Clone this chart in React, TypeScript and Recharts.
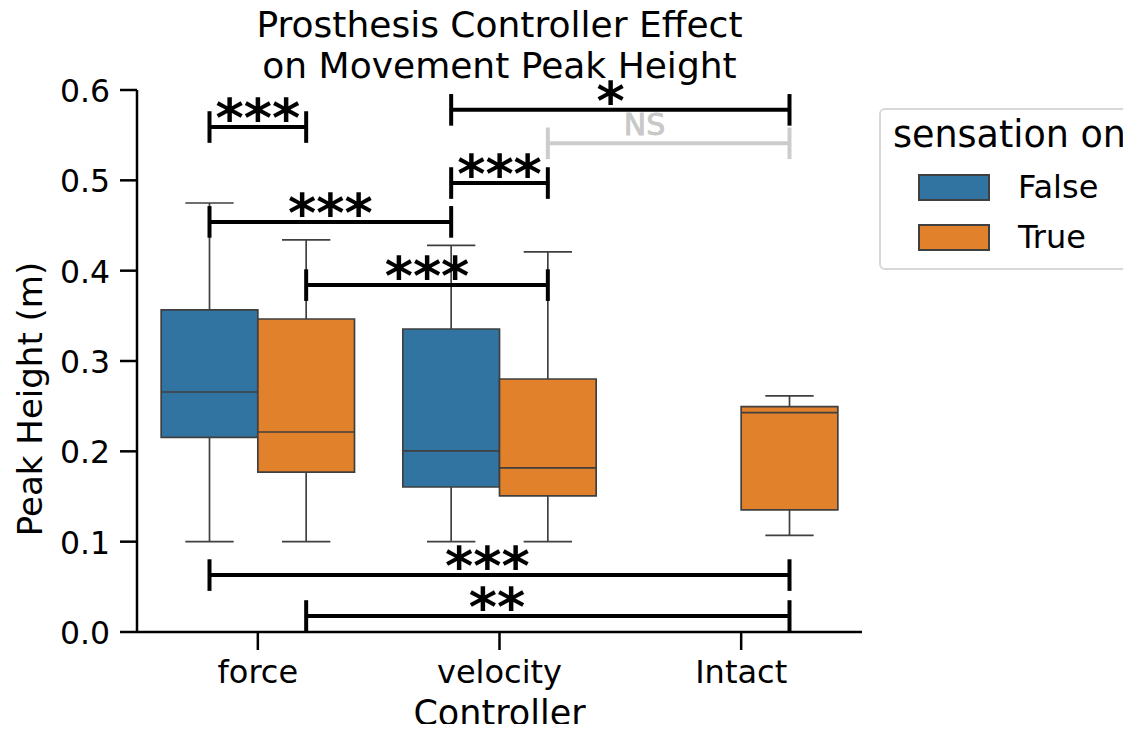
import React from 'react';
import { ComposedChart, XAxis, YAxis, Scatter, ReferenceArea, ReferenceLine, Legend } from 'recharts';

const categories = ['force', 'velocity', 'Intact'];
const hueLevels = ['False', 'True'];
const hueColors = ['#3274a1', '#e1812c'];
const yTicks = [0, 0.1, 0.2, 0.3, 0.4, 0.5, 0.6];
const xTicks = [0, 1, 2];

const falseBoxes = [
  { cat: 'force', low: 0.1, q1: 0.2155, median: 0.2657, q3: 0.3565, high: 0.4749 },
  { cat: 'velocity', low: 0.1, q1: 0.1605, median: 0.2004, q3: 0.3354, high: 0.428 },
];
const trueBoxes = [
  { cat: 'force', low: 0.1, q1: 0.177, median: 0.2214, q3: 0.3465, high: 0.434 },
  { cat: 'velocity', low: 0.1, q1: 0.1506, median: 0.1816, q3: 0.2801, high: 0.4207 },
  { cat: 'Intact', low: 0.107, q1: 0.1351, median: 0.2428, q3: 0.2494, high: 0.2613 },
];

const annotations = [
  { from: ['force', 'False'], to: ['force', 'True'], y: 0.559, text: '***', textX: 0.0 },
  { from: ['force', 'False'], to: ['velocity', 'False'], y: 0.454, text: '***', textX: 0.3 },
  { from: ['force', 'True'], to: ['velocity', 'True'], y: 0.384, text: '***', textX: 0.7 },
  { from: ['velocity', 'False'], to: ['velocity', 'True'], y: 0.497, text: '***', textX: 1.0 },
  { from: ['velocity', 'False'], to: ['Intact', 'True'], y: 0.578, text: '*', textX: 1.46 },
  { from: ['velocity', 'True'], to: ['Intact', 'True'], y: 0.541, text: 'NS', textX: 1.6 },
  { from: ['force', 'False'], to: ['Intact', 'True'], y: 0.063, text: '***', textX: 0.95 },
  { from: ['force', 'True'], to: ['Intact', 'True'], y: 0.0177, text: '**', textX: 0.99 },
];

const FONT = "'DejaVu Sans', sans-serif";
const EDGE = '#3f3f3f';
const HUE_OFFSET = 0.2;
const BOX_HALF = 0.2;
const CAP_HALF = 0.1;
const TICK_HALF = 0.0175;
const W = 1131;
const H = 732;

const groupX = (cat: string, hue: string) =>
  categories.indexOf(cat) + (hue === 'False' ? -HUE_OFFSET : HUE_OFFSET);

const boxes = [
  ...falseBoxes.map((b) => ({ ...b, hue: 'False' })),
  ...trueBoxes.map((b) => ({ ...b, hue: 'True' })),
];

const XTick = (props: any) => {
  const { x, y, payload } = props;
  return (
    <text x={x} y={y + 33} textAnchor="middle" fontSize={32} fontFamily={FONT} fill="#000">
      {categories[payload.value]}
    </text>
  );
};

const YTick = (props: any) => {
  const { x, y, payload } = props;
  return (
    <text x={x} y={y + 12} textAnchor="end" fontSize={31.5} fontFamily={FONT} fill="#000">
      {Number(payload.value).toFixed(1)}
    </text>
  );
};

const AnnotText = (props: any) => {
  const { cx, cy, payload } = props;
  if (payload.text === 'NS') {
    return (
      <text x={cx} y={cy - 8} textAnchor="middle" fontSize={30} fontFamily={FONT} fill="#c8c8c8" stroke="#c8c8c8" strokeWidth={0.9}>
        {payload.text}
      </text>
    );
  }
  return (
    <text x={cx} y={cy + 10} textAnchor="middle" fontSize={54} fontWeight="bold" fontFamily={FONT} fill="#000">
      {payload.text}
    </text>
  );
};

const LegendBox = () => (
  <svg width={300} height={162} style={{ display: 'block' }}>
    <rect x={1} y={1} width={298} height={160} rx={5} fill="#fff" stroke="#d8d8d8" strokeWidth={2} />
    <text x={14} y={39} fontSize={36.5} fontFamily={FONT} fill="#000">sensation on</text>
    {hueLevels.map((h, i) => (
      <g key={h}>
        <rect x={40} y={67 + i * 50} width={70} height={25} fill={hueColors[i]} stroke={EDGE} strokeWidth={2} />
        <text x={139} y={90 + i * 50} fontSize={32} fontFamily={FONT} fill="#000">{h}</text>
      </g>
    ))}
  </svg>
);

export default function App() {
  const textData = annotations.map((a) => ({ x: a.textX, y: a.y, text: a.text }));

  const boxElements = boxes.flatMap((b, i) => {
    const cx = groupX(b.cat, b.hue);
    const color = hueColors[hueLevels.indexOf(b.hue)];
    return [
      <ReferenceLine key={`wu${i}`} segment={[{ x: cx, y: b.q3 }, { x: cx, y: b.high }]} stroke={EDGE} strokeWidth={1.7} ifOverflow="visible" />,
      <ReferenceLine key={`wl${i}`} segment={[{ x: cx, y: b.low }, { x: cx, y: b.q1 }]} stroke={EDGE} strokeWidth={1.7} ifOverflow="visible" />,
      <ReferenceLine key={`cu${i}`} segment={[{ x: cx - CAP_HALF, y: b.high }, { x: cx + CAP_HALF, y: b.high }]} stroke={EDGE} strokeWidth={1.7} ifOverflow="visible" />,
      <ReferenceLine key={`cl${i}`} segment={[{ x: cx - CAP_HALF, y: b.low }, { x: cx + CAP_HALF, y: b.low }]} stroke={EDGE} strokeWidth={1.7} ifOverflow="visible" />,
      <ReferenceArea key={`bx${i}`} x1={cx - BOX_HALF} x2={cx + BOX_HALF} y1={b.q1} y2={b.q3} fill={color} fillOpacity={1} stroke={EDGE} strokeWidth={1.7} ifOverflow="visible" />,
      <ReferenceLine key={`md${i}`} segment={[{ x: cx - BOX_HALF, y: b.median }, { x: cx + BOX_HALF, y: b.median }]} stroke={EDGE} strokeWidth={1.7} ifOverflow="visible" />,
    ];
  });

  const bracketElements = annotations.flatMap((a, i) => {
    const x1 = groupX(a.from[0], a.from[1]);
    const x2 = groupX(a.to[0], a.to[1]);
    const col = a.text === 'NS' ? '#cccccc' : '#000';
    return [
      <ReferenceLine key={`bh${i}`} segment={[{ x: x1, y: a.y }, { x: x2, y: a.y }]} stroke={col} strokeWidth={4} ifOverflow="visible" />,
      <ReferenceLine key={`bl${i}`} segment={[{ x: x1, y: a.y - TICK_HALF }, { x: x1, y: a.y + TICK_HALF }]} stroke={col} strokeWidth={4} ifOverflow="visible" />,
      <ReferenceLine key={`br${i}`} segment={[{ x: x2, y: a.y - TICK_HALF }, { x: x2, y: a.y + TICK_HALF }]} stroke={col} strokeWidth={4} ifOverflow="visible" />,
    ];
  });

  return (
    <div style={{ position: 'relative', width: W, height: H, margin: -8, overflow: 'hidden', background: '#fff' }}>
      <ComposedChart width={W} height={H} margin={{ top: 90, right: 269, bottom: 0, left: 0 }}>
        <XAxis
          type="number"
          dataKey="x"
          domain={[-0.5, 2.5]}
          ticks={xTicks}
          height={100}
          axisLine={{ stroke: '#000', strokeWidth: 2.5 }}
          tickLine={{ stroke: '#000', strokeWidth: 2.5 }}
          tickSize={18}
          tickMargin={0}
          tick={<XTick />}
        />
        <YAxis
          type="number"
          dataKey="y"
          domain={[0, 0.6]}
          ticks={yTicks}
          width={137}
          axisLine={{ stroke: '#000', strokeWidth: 2.5 }}
          tickLine={{ stroke: '#000', strokeWidth: 2.5 }}
          tickSize={17}
          tickMargin={10}
          tick={<YTick />}
        />
        {boxElements}
        {bracketElements}
        <Scatter data={textData} isAnimationActive={false} shape={<AnnotText />} legendType="none" />
        <Legend
          layout="vertical"
          align="center"
          verticalAlign="middle"
          wrapperStyle={{ left: 879, top: 108, width: 300, height: 162 }}
          content={() => <LegendBox />}
        />
      </ComposedChart>
      <svg width={W} height={H} style={{ position: 'absolute', left: 0, top: 0, pointerEvents: 'none' }}>
        <text x={499.5} y={37} textAnchor="middle" fontSize={36} fontFamily={FONT} fill="#000">Prosthesis Controller Effect</text>
        <text x={499.5} y={78} textAnchor="middle" fontSize={36} fontFamily={FONT} fill="#000">on Movement Peak Height</text>
        <text x={499.5} y={725} textAnchor="middle" fontSize={35} fontFamily={FONT} fill="#000">Controller</text>
        <text transform={`translate(42, 399) rotate(-90)`} textAnchor="middle" fontSize={34} fontFamily={FONT} fill="#000">Peak Height (m)</text>
      </svg>
    </div>
  );
}
